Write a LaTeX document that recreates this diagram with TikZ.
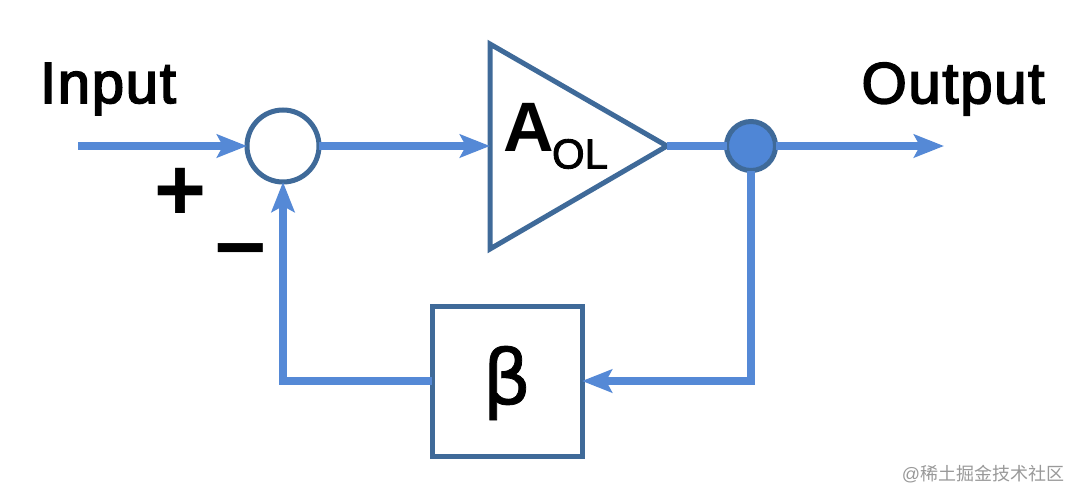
\documentclass[tikz,border=0pt]{standalone}
\usepackage{fontspec}
\setmainfont{Liberation Sans}
\newfontfamily\heavyfont[FakeBold=3,LetterSpace=3]{Liberation Sans}
\newfontfamily\olfont[FakeBold=2]{Liberation Sans}
\newfontfamily\cjkfont{Noto Sans CJK SC}
\newfontfamily\djvfont[FakeBold=1]{DejaVu Sans}
\usetikzlibrary{arrows.meta}
\definecolor{wire}{HTML}{5589D6}
\definecolor{edge}{HTML}{3F6A99}
\definecolor{dotfill}{HTML}{4F86D6}
\tikzset{x=1pt,y=-1pt,
 wireline/.style={draw=wire,line width=8pt},
 arrowline/.style={wireline,-{Stealth[length=30pt,width=23pt,inset=6pt]}},
 shapeedge/.style={draw=edge,line width=5pt},
 lab/.style={inner sep=0pt,anchor=center,text=black}}
\begin{document}
\begin{tikzpicture}
\useasboundingbox (0,0) rectangle (1080,501);
\fill[white] (0,0) rectangle (1080,501);
\coordinate (inp) at (78,146);
\coordinate (outp) at (944,146);
\node[circle,shapeedge,fill=white,minimum size=72pt,inner sep=0pt,outer sep=0pt] (sum) at (283,146) {};
\node[circle,shapeedge,fill=dotfill,minimum size=49pt,inner sep=0pt,outer sep=0pt] (dot) at (751,146) {};
\node[minimum width=150pt,minimum height=150pt,inner sep=0pt,outer sep=0pt,shapeedge] (beta) at (507,381) {};
\coordinate (tl) at (490,44);
\coordinate (bl) at (490,249);
\coordinate (tip) at (667,146);
\coordinate (tipin) at (490,146);
\draw[shapeedge,fill=white,line join=miter] (tl) -- (tip) -- (bl) -- cycle;
\draw[arrowline] (inp) -- (sum.west);
\draw[arrowline] (sum.east) -- (tipin);
\draw[wireline] (tip) -- (dot.west);
\draw[arrowline] (dot.east) -- (outp);
\draw[arrowline] (dot.south) |- (beta.east);
\draw[arrowline] (beta.west) -| (sum.south);
\node[lab,font=\heavyfont\fontsize{58}{58}\selectfont] (t1) at (108,89) {Input};
\node[lab,font=\heavyfont\fontsize{58}{58}\selectfont] (t2) at (953,89) {Output};
\node[lab,font=\fontsize{89}{89}\selectfont\bfseries] (plus) at (180,194) {+};
\node[lab,font=\fontsize{91}{91}\selectfont\bfseries] (minus) at (241,258) {\char"2013};
\node[lab,font=\fontsize{70}{70}\selectfont\bfseries] (a) at (529,127) {A};
\node[lab,font=\olfont\fontsize{42}{42}\selectfont] (ol) at (580,154) {OL};
\node[lab,font=\djvfont\fontsize{76}{76}\selectfont] (b) at (507,383) {β};
\node[lab,text=gray!80,font=\fontsize{18}{18}\selectfont] (wm) at (983,474) {@\cjkfont 稀土掘金技术社区};
\end{tikzpicture}
\end{document}
